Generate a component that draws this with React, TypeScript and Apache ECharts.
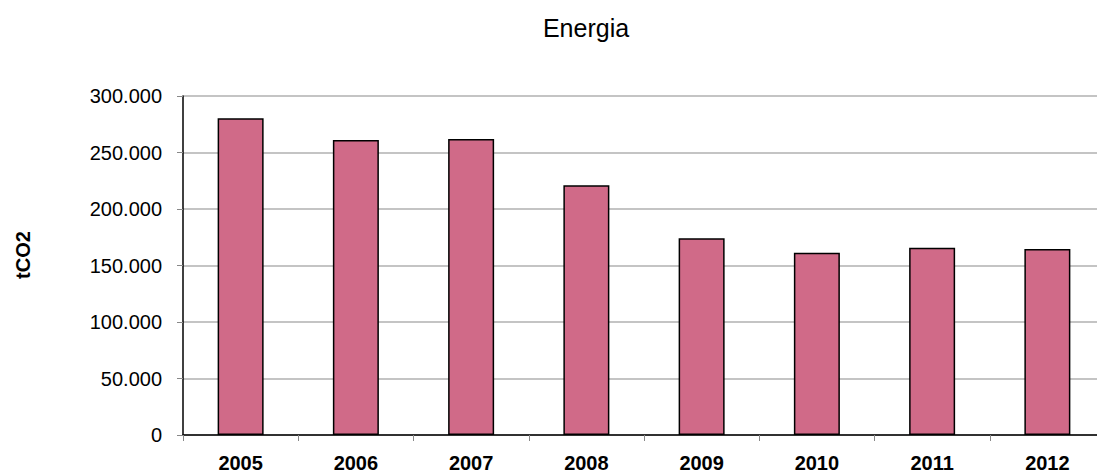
import React, { useEffect, useRef } from "react";
import * as echarts from "echarts";

const years = ["2005", "2006", "2007", "2008", "2009", "2010", "2011", "2012"];
const emissions = [280400, 261000, 261900, 221000, 174200, 161300, 165700, 164500];
const yMin = 0;
const yMax = 300000;
const yStep = 50000;
const chartTitle = "Energia";
const yAxisName = "tCO2";

const fmt = (v: number) => String(Math.round(v)).replace(/\B(?=(\d{3})+(?!\d))/g, ".");

export default function App() {
  const ref = useRef<HTMLDivElement>(null);
  useEffect(() => {
    document.body.style.margin = "0";
    if (!ref.current) return;
    const chart = echarts.init(ref.current, null, { renderer: "svg" });
    const font = "'Liberation Sans', Arial, sans-serif";
    chart.setOption({
      animation: false,
      backgroundColor: "#ffffff",
      textStyle: { fontFamily: font },
      grid: { left: 183, top: 96, width: 922, height: 341, containLabel: false },
      graphic: [
        {
          type: "text",
          x: 586,
          y: 28,
          style: {
            text: chartTitle,
            font: `25px ${font}`,
            fill: "#000",
            textAlign: "center",
            textVerticalAlign: "middle",
          },
        },
        {
          type: "text",
          x: 23,
          y: 255,
          rotation: Math.PI / 2,
          style: {
            text: yAxisName,
            font: `bold 20px ${font}`,
            fill: "#000",
            textAlign: "center",
            textVerticalAlign: "middle",
          },
        },
      ],
      xAxis: {
        type: "category",
        data: years,
        boundaryGap: true,
        axisLine: { lineStyle: { color: "#000", width: 1.5 } },
        axisTick: { show: true, length: 6, lineStyle: { color: "#888" }, alignWithLabel: false },
        axisLabel: { color: "#000", fontSize: 20, fontWeight: "bold", margin: 18, fontFamily: font },
        splitLine: { show: false },
      },
      yAxis: {
        type: "value",
        min: yMin,
        max: yMax,
        interval: yStep,
        axisLine: { show: true, lineStyle: { color: "#000", width: 1.5 } },
        axisTick: { show: true, length: 6, lineStyle: { color: "#888" } },
        axisLabel: { color: "#000", fontSize: 20, margin: 21, formatter: (v: number) => fmt(v), fontFamily: font },
        splitLine: { show: true, lineStyle: { color: "#c4c4c4", width: 2 } },
      },
      series: [
        {
          type: "bar",
          data: emissions,
          barWidth: 46,
          itemStyle: { color: "#D06A88", borderColor: "#000", borderWidth: 1.5 },
        },
      ],
    });
    return () => chart.dispose();
  }, []);
  return (
    <div style={{ width: 1097, height: 473, overflow: "hidden", position: "relative" }}>
      <div ref={ref} style={{ width: 1110, height: 473 }} />
    </div>
  );
}
